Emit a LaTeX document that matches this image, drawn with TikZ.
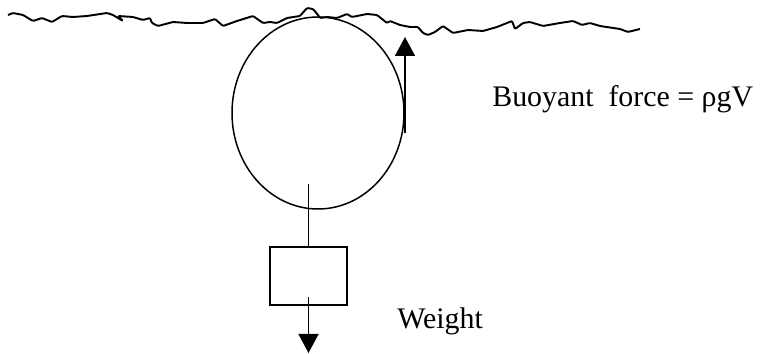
\documentclass[tikz,border=0pt]{standalone}
\usepackage{fontspec}
\setmainfont{Liberation Serif}
\usepackage{tikz}
\usetikzlibrary{arrows.meta,positioning,shapes.geometric}
\tikzset{
  body/.style={draw, line width=0.85pt, inner sep=0pt},
  ball/.style={body, ellipse, minimum width=3.44cm, minimum height=3.84cm},
  mass/.style={body, rectangle, minimum width=1.54cm, minimum height=1.16cm},
  force/.style={-{Triangle[length=3.8mm, width=4mm]}, line width=0.85pt},
  wire/.style={line width=0.85pt},
  surf/.style={line width=1.1pt, line join=round, rounded corners=0.6pt},
  lbl/.style={font=\fontsize{17}{20}\selectfont, anchor=base west, inner sep=0pt}
}
\begin{document}
\begin{tikzpicture}
\useasboundingbox (0,0) rectangle (15.46,-7.08);
% water surface
\draw[surf] (0.16,-0.30) -- (0.26,-0.26) -- (0.46,-0.30) -- (0.66,-0.42) -- (0.84,-0.36)
  -- (1.04,-0.44) -- (1.24,-0.32) -- (1.46,-0.34) -- (1.74,-0.32) -- (2.14,-0.26)
  -- (2.26,-0.30) -- (2.46,-0.42) -- (2.36,-0.32) -- (2.66,-0.34) -- (2.86,-0.40)
  -- (3.00,-0.36) -- (3.04,-0.46) -- (3.16,-0.52) -- (3.46,-0.44) -- (3.74,-0.46)
  -- (4.06,-0.46) -- (4.30,-0.38) -- (4.46,-0.52) -- (4.74,-0.42) -- (5.06,-0.32)
  -- (5.26,-0.46) -- (5.40,-0.44) -- (5.54,-0.46) -- (5.74,-0.36) -- (6.00,-0.32)
  -- (6.14,-0.16) -- (6.26,-0.18) -- (6.36,-0.30) -- (6.40,-0.36) -- (6.54,-0.34)
  -- (6.74,-0.36) -- (6.94,-0.28) -- (7.04,-0.34) -- (7.34,-0.28) -- (7.54,-0.30)
  -- (7.74,-0.46) -- (7.80,-0.42) -- (8.00,-0.50) -- (8.20,-0.54) -- (8.36,-0.54)
  -- (8.46,-0.66) -- (8.56,-0.70) -- (8.70,-0.64) -- (8.86,-0.52) -- (9.06,-0.66)
  -- (9.36,-0.60) -- (9.66,-0.62) -- (9.94,-0.54) -- (10.24,-0.42) -- (10.30,-0.58)
  -- (10.46,-0.46) -- (10.60,-0.44) -- (10.86,-0.52) -- (11.20,-0.46) -- (11.46,-0.42)
  -- (11.64,-0.50) -- (11.80,-0.46) -- (12.00,-0.52) -- (12.40,-0.58) -- (12.56,-0.64)
  -- (12.80,-0.58);
% floating body and hanging weight
\node[ball] (float) at (6.36,-2.26) {};
\node[mass] (weight) at (6.17,-5.52) {};
\coordinate (hook) at (6.17,-3.68);
\draw[wire] (hook) -- (weight.north);
% forces
\coordinate (upfrom) at (8.10,-2.66);
\coordinate (upto) at (8.10,-0.74);
\draw[force] (upfrom) -- (upto);
\coordinate (downfrom) at (6.17,-5.94);
\coordinate (downto) at (6.17,-7.06);
\draw[force] (downfrom) -- (downto);
\node[lbl] (buoy) at (9.84,-2.14) {Buoyant\ \ force = ρgV};
\node[lbl] (wlbl) at (7.94,-6.58) {Weight};
\end{tikzpicture}
\end{document}
